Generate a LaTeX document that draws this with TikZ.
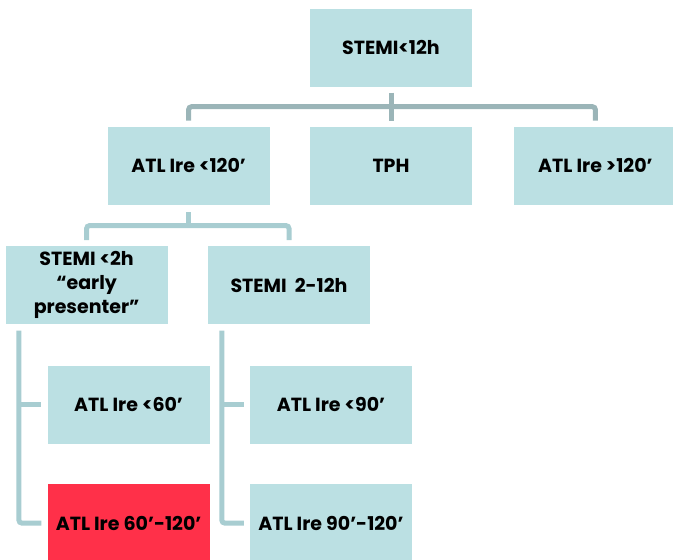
\documentclass[tikz,border=0pt]{standalone}
\usepackage{fontspec}
\setmainfont{Poppins}
\usetikzlibrary{positioning,calc}
\definecolor{boxfill}{HTML}{BBE0E3}
\definecolor{hotfill}{HTML}{FF3049}
\definecolor{linktop}{HTML}{9BB5B8}
\definecolor{linklow}{HTML}{A8CDD1}

\begin{document}
\begin{tikzpicture}[
      x=1pt, y=1pt,
      font=\fontsize{19}{24}\selectfont\bfseries,
      box/.style={fill=boxfill, minimum width=162pt, minimum height=78pt,
                  inner sep=2pt, align=center, node distance=40pt},
      hot/.style={box, fill=hotfill},
      link/.style={draw=linklow, line width=5pt, rounded corners=3pt},
      linkup/.style={link, draw=linktop},
    ]
    \useasboundingbox (0,0) rectangle (673,-560);

    % ---------- top and second row ----------
    \node[box] (stemi) at (391,-47.5) {STEMI<12h};
    \node[box, below=40pt of stemi] (tph) {TPH};
    \node[box, left=40pt of tph] (atlshort) {ATL Ire <120’};
    \node[box, right=42pt of tph] (atllong) {ATL Ire >120’};

    \coordinate (busA) at ($(stemi.south)!0.5!(tph.north)$);
    \draw[linkup] ($(stemi.south)+(0,-6pt)$) -- ($(tph.north)+(0,6pt)$);
    \draw[linkup] ($(atlshort.north)+(0,6pt)$) |- (busA)
                  -| ($(atllong.north)+(0,6pt)$);

    % ---------- presenters ----------
    \node[box, below=41pt of atlshort, xshift=-102pt] (early)
      {STEMI <2h\\“early\\presenter”};
    \node[box, right=40pt of early] (late) {STEMI\ \ 2-12h};

    \coordinate (busB) at ($(atlshort.south)!0.5!(early.north)$);
    \draw[link] ($(atlshort.south)+(0,-7pt)$) -- (atlshort.south |- busB);
    \draw[link] ($(early.north)+(0,6pt)$) |- (busB) -| ($(late.north)+(0,6pt)$);

    % ---------- leaves ----------
    \node[box, below=41pt of early, xshift=42pt] (atlsixty) {ATL Ire <60’};
    \node[hot, below=40pt of atlsixty] (atlsixtyplus) {ATL Ire 60’-120’};
    \node[box, below=41pt of late, xshift=42pt] (atlninety) {ATL Ire <90’};
    \node[box, below=40pt of atlninety] (atlninetyplus) {ATL Ire 90’-120’};

    \coordinate (railA) at ($(early.south west)+(13.5pt,-6pt)$);
    \coordinate (railB) at ($(late.south west)+(14pt,-6pt)$);
    \draw[link] (railA) |- ($(atlsixtyplus.west)+(-6pt,0)$);
    \draw[link] (railA |- atlsixty.west) -- ($(atlsixty.west)+(-6pt,0)$);
    \draw[link] (railB) |- ($(atlninetyplus.west)+(-6pt,0)$);
    \draw[link] (railB |- atlninety.west) -- ($(atlninety.west)+(-6pt,0)$);
  \end{tikzpicture}
\end{document}
